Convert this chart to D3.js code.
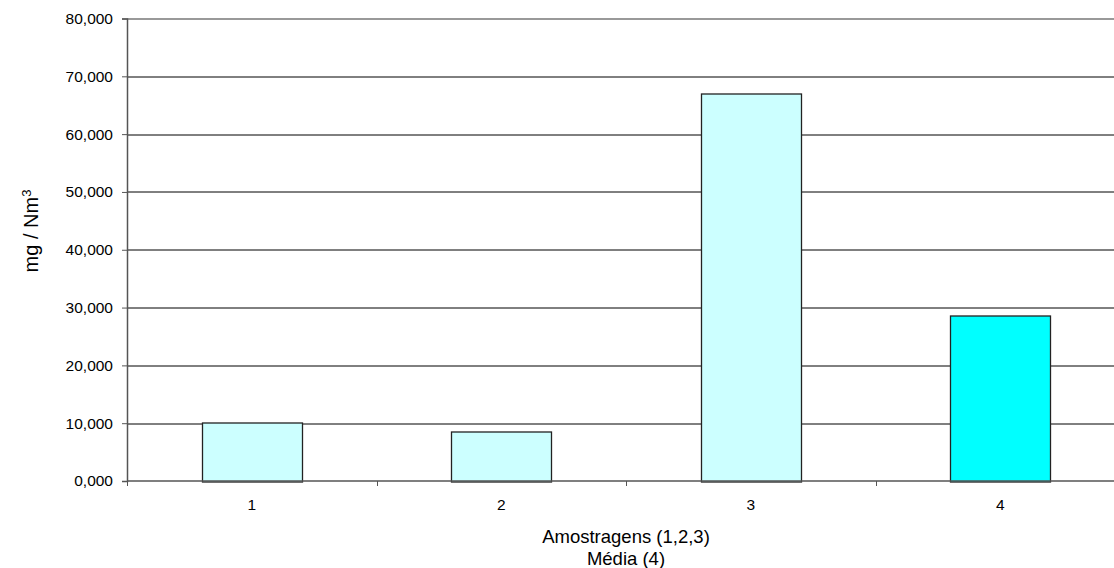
<!DOCTYPE html>
<html>
<head>
<meta charset="utf-8">
<script src="https://cdn.jsdelivr.net/npm/d3@7"></script>
<style>
  html, body { margin: 0; padding: 0; background: #fff; }
  svg { display: block; }
  text { font-family: "Liberation Sans", Arial, sans-serif; fill: #000; }
</style>
</head>
<body>
<svg id="chart" width="1114" height="568"></svg>
<script>
// Sample concentrations (mg/Nm³); category 4 is the mean of samples 1–3
const categories = ["1", "2", "3", "4"];
const values = [10080, 8620, 66960, 28550];
const barColors = ["#ccffff", "#ccffff", "#ccffff", "#00ffff"];
const yTicks = [0, 10000, 20000, 30000, 40000, 50000, 60000, 70000, 80000];

const svg = d3.select("#chart");
const margin = { left: 127, top: 18.5, right: -11, bottom: 87 };
const width = 1114 - margin.left - margin.right;
const height = 568 - margin.top - margin.bottom;

const g = svg.append("g").attr("transform", `translate(${margin.left},${margin.top})`);

const x = d3.scaleBand().domain(categories).range([0, width]).paddingInner(0.6).paddingOuter(0.3);
const y = d3.scaleLinear().domain([0, 80000]).range([height, 0]);

const fmt = v => d3.format(",.3f")(v / 1000).replace(".", ",");

// horizontal gridlines
g.append("g").selectAll("line").data(yTicks.filter(t => t > 0 && t < 80000)).join("line")
  .attr("x1", 0).attr("x2", width)
  .attr("y1", d => Math.round(y(d)) + 0.5).attr("y2", d => Math.round(y(d)) + 0.5)
  .attr("stroke", "#000").attr("stroke-width", 1);

// top border of plot area
g.append("line").attr("x1", 0).attr("x2", width).attr("y1", 0.5).attr("y2", 0.5)
  .attr("stroke", "#999").attr("stroke-width", 2);

// bars
g.append("g").selectAll("rect").data(values).join("rect")
  .attr("x", (d, i) => Math.round(x(categories[i])) + 0.5)
  .attr("y", d => Math.round(y(d)) + 0.5)
  .attr("width", Math.round(x.bandwidth()))
  .attr("height", d => Math.round(y(0)) - Math.round(y(d)))
  .attr("fill", (d, i) => barColors[i])
  .attr("stroke", "#222").attr("stroke-width", 1.3);

// y axis
const yAxis = g.append("g")
  .call(d3.axisLeft(y).tickValues(yTicks).tickFormat(fmt).tickSize(5).tickPadding(9));
yAxis.select(".domain").attr("stroke", "#555").attr("stroke-width", 1.5);
yAxis.selectAll(".tick line").attr("stroke", "#555");
yAxis.selectAll("text").style("font-size", "15.5px");

// x axis: ticks at category boundaries
const xg = g.append("g").attr("transform", `translate(0,${height})`);
xg.append("line").attr("x1", 0).attr("x2", width).attr("y1", 0).attr("y2", 0)
  .attr("stroke", "#555").attr("stroke-width", 1.5);
const boundaries = d3.range(categories.length + 1).map(i => i * width / categories.length);
xg.selectAll(".bt").data(boundaries).join("line").attr("class", "bt")
  .attr("x1", d => Math.round(d) + 0.5).attr("x2", d => Math.round(d) + 0.5)
  .attr("y1", 0).attr("y2", 5).attr("stroke", "#555");
xg.selectAll(".cl").data(categories).join("text").attr("class", "cl")
  .attr("x", d => x(d) + x.bandwidth() / 2).attr("y", 29)
  .attr("text-anchor", "middle").style("font-size", "15.5px").text(d => d);

// axis titles
const titleX = (x(categories[1]) + x(categories[2]) + x.bandwidth()) / 2;
const xt = g.append("text").attr("text-anchor", "middle").style("font-size", "18.5px");
xt.append("tspan").attr("x", titleX).attr("y", height + 62).text("Amostragens (1,2,3)");
xt.append("tspan").attr("x", titleX).attr("y", height + 84).text("Média (4)");

const yt = svg.append("text").attr("text-anchor", "middle").style("font-size", "20px")
  .attr("transform", `translate(38,231) rotate(-90)`);
yt.append("tspan").text("mg / Nm");
yt.append("tspan").attr("dy", -7).style("font-size", "13px").text("3");
</script>
</body>
</html>
